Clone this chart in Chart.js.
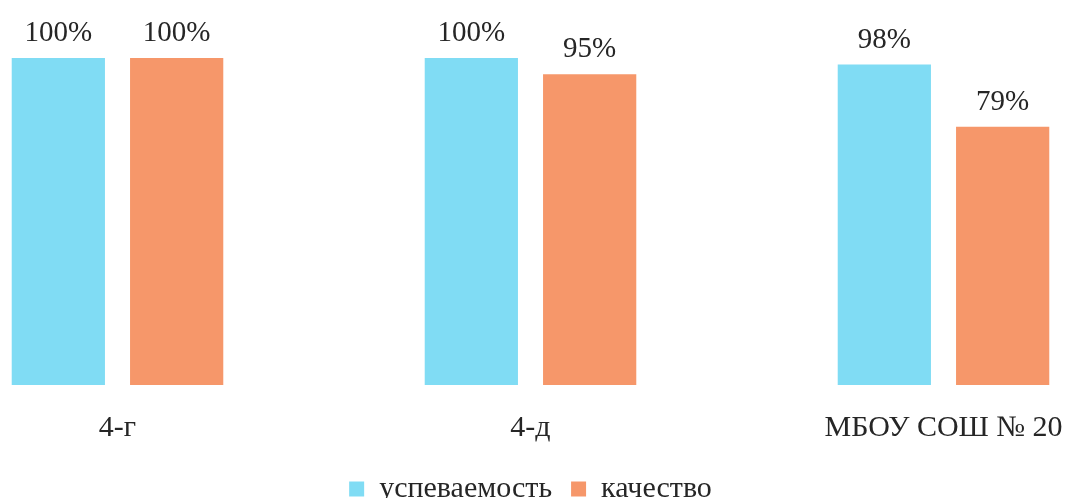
<!DOCTYPE html>
<html><head><meta charset="utf-8">
<script src="https://cdn.jsdelivr.net/npm/chart.js@4"></script>
<style>
html,body{margin:0;padding:0;background:#fff;overflow:hidden;width:1069px;height:498px;}
#wrap{position:absolute;left:-89px;top:0;width:1239px;height:514px;}
</style></head>
<body><div id="wrap"><canvas id="c" width="1239" height="514"></canvas></div>
<script>
const categories = ['4-г', '4-д', 'МБОУ СОШ № 20'];
const seriesNames = ['успеваемость', 'качество'];
const uspevaemost = [100, 100, 98];
const kachestvo = [100, 95, 79];

const textColor = '#262626';
const fontFamily = '"Liberation Serif", "DejaVu Serif", serif';

const valueLabels = {
  id: 'valueLabels',
  afterDatasetsDraw(chart) {
    const ctx = chart.ctx;
    ctx.save();
    ctx.font = '29px ' + fontFamily;
    ctx.fillStyle = textColor;
    ctx.textAlign = 'center';
    ctx.textBaseline = 'alphabetic';
    chart.data.datasets.forEach((ds, i) => {
      chart.getDatasetMeta(i).data.forEach((bar, j) => {
        ctx.fillText(ds.data[j] + '%', bar.x, bar.y - 17);
      });
    });
    ctx.restore();
  }
};

new Chart(document.getElementById('c'), {
  type: 'bar',
  data: {
    labels: categories,
    datasets: [
      { label: seriesNames[0], data: uspevaemost, backgroundColor: '#80dcf4' },
      { label: seriesNames[1], data: kachestvo, backgroundColor: '#f6976a' }
    ]
  },
  options: {
    responsive: false,
    animation: false,
    devicePixelRatio: 1,
    categoryPercentage: 0.573,
    barPercentage: 0.788,
    layout: { padding: { top: 58, left: 0, right: 0, bottom: 0 } },
    scales: {
      x: {
        grid: { display: false },
        border: { display: false },
        ticks: { color: textColor, font: { family: fontFamily, size: 30 }, padding: 17 },
        afterFit(scale) { scale.height = 70; }
      },
      y: { display: false, min: 0, max: 100 }
    },
    plugins: {
      legend: {
        position: 'bottom',
        labels: {
          color: textColor,
          font: { family: fontFamily, size: 30 },
          boxWidth: 15, boxHeight: 15, padding: 19
        }
      },
      tooltip: { enabled: false }
    }
  },
  plugins: [valueLabels]
});
</script></body></html>
